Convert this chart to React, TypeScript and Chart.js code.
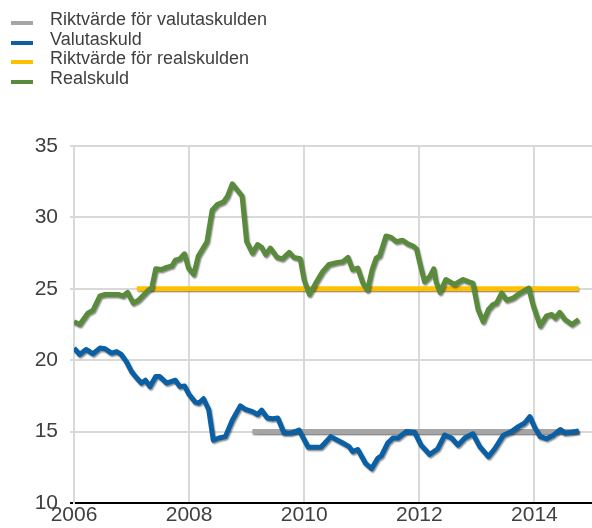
import React, { useEffect, useRef } from "react";
import { Chart, registerables } from "chart.js";

Chart.register(...registerables);

const legendLabels = [
  "Riktvärde för valutaskulden",
  "Valutaskuld",
  "Riktvärde för realskulden",
  "Realskuld",
];
const seriesColors = ["#a5a5a5", "#0b5fa5", "#ffc000", "#5a8b3c"];

const xTickYears = [2006, 2008, 2010, 2012, 2014];
const yTickValues = [10, 15, 20, 25, 30, 35];

const valutaTargetYears = [2009.1, 2014.77];
const valutaTargetValues = [15, 15];

const realTargetYears = [2007.09, 2014.77];
const realTargetValues = [25, 25];

const valutaskuldYears = [
  2006.0, 2006.1, 2006.21, 2006.33, 2006.45, 2006.54, 2006.65, 2006.74, 2006.82, 2006.91,
  2007.0, 2007.09, 2007.17, 2007.24, 2007.32, 2007.42, 2007.49, 2007.61, 2007.76, 2007.84,
  2007.92, 2008.0, 2008.11, 2008.17, 2008.25, 2008.34, 2008.42, 2008.52, 2008.63, 2008.75,
  2008.89, 2008.98, 2009.1, 2009.19, 2009.26, 2009.36, 2009.45, 2009.54, 2009.65, 2009.77,
  2009.91, 2010.07, 2010.2, 2010.29, 2010.46, 2010.67, 2010.78, 2010.84, 2010.93, 2011.07,
  2011.17, 2011.28, 2011.34, 2011.45, 2011.54, 2011.63, 2011.77, 2011.92, 2012.03, 2012.18,
  2012.32, 2012.44, 2012.56, 2012.67, 2012.79, 2012.93, 2013.05, 2013.2, 2013.31, 2013.46,
  2013.6, 2013.72, 2013.83, 2013.92, 2014.01, 2014.1, 2014.21, 2014.33, 2014.45, 2014.53,
  2014.65, 2014.77,
];
const valutaskuldValues = [
  20.85, 20.4, 20.75, 20.45, 20.85, 20.8, 20.5, 20.6, 20.4, 19.9,
  19.2, 18.75, 18.4, 18.6, 18.15, 18.85, 18.85, 18.4, 18.6, 18.15,
  18.2, 17.6, 17.05, 17.0, 17.3, 16.55, 14.4, 14.55, 14.65, 15.8,
  16.8, 16.55, 16.4, 16.2, 16.5, 15.95, 15.9, 15.95, 14.9, 14.9,
  15.1, 13.9, 13.9, 13.9, 14.65, 14.2, 13.95, 13.6, 13.75, 12.75,
  12.4, 13.15, 13.3, 14.2, 14.55, 14.55, 15.0, 14.95, 14.05, 13.4,
  13.8, 14.75, 14.55, 14.05, 14.55, 14.85, 13.95, 13.25, 13.8, 14.75,
  15.0, 15.35, 15.6, 16.05, 15.25, 14.65, 14.5, 14.75, 15.15, 14.9,
  14.95, 15.05,
];

const realskuldYears = [
  2006.0, 2006.1, 2006.24, 2006.33, 2006.45, 2006.54, 2006.77, 2006.85, 2006.93, 2007.03,
  2007.12, 2007.29, 2007.35, 2007.42, 2007.52, 2007.61, 2007.7, 2007.76, 2007.84, 2007.92,
  2007.99, 2008.08, 2008.16, 2008.31, 2008.4, 2008.49, 2008.6, 2008.67, 2008.75, 2008.84,
  2008.92, 2009.0, 2009.1, 2009.19, 2009.26, 2009.33, 2009.41, 2009.53, 2009.62, 2009.74,
  2009.82, 2009.93, 2010.0, 2010.09, 2010.2, 2010.32, 2010.43, 2010.58, 2010.67, 2010.76,
  2010.84, 2010.93, 2011.02, 2011.1, 2011.18, 2011.25, 2011.31, 2011.42, 2011.51, 2011.6,
  2011.71, 2011.8, 2011.89, 2011.95, 2012.02, 2012.09, 2012.18, 2012.25, 2012.29, 2012.36,
  2012.46, 2012.61, 2012.76, 2012.85, 2012.93, 2013.02, 2013.11, 2013.2, 2013.28, 2013.34,
  2013.43, 2013.52, 2013.63, 2013.75, 2013.9, 2013.98, 2014.1, 2014.21, 2014.3, 2014.36,
  2014.44, 2014.53, 2014.65, 2014.77,
];
const realskuldValues = [
  22.7, 22.5, 23.3, 23.5, 24.5, 24.6, 24.6, 24.5, 24.75, 24.0,
  24.2, 24.9, 25.05, 26.4, 26.35, 26.5, 26.6, 27.0, 27.1, 27.45,
  26.45, 26.0, 27.3, 28.3, 30.5, 30.9, 31.1, 31.5, 32.35, 31.9,
  31.5, 28.3, 27.5, 28.1, 27.9, 27.4, 27.85, 27.2, 27.1, 27.55,
  27.2, 27.1, 25.6, 24.6, 25.4, 26.2, 26.7, 26.85, 26.9, 27.2,
  26.35, 26.45, 25.4, 24.9, 26.35, 27.15, 27.3, 28.7, 28.6, 28.3,
  28.4, 28.15, 28.0, 27.8, 26.6, 25.5, 25.85, 26.4, 25.5, 24.75,
  25.65, 25.3, 25.65, 25.5, 25.4, 23.55, 22.7, 23.55, 23.9, 24.0,
  24.7, 24.2, 24.35, 24.7, 25.05, 23.8, 22.4, 23.1, 23.2, 22.95,
  23.35, 22.85, 22.5, 22.85,
];

const toPoints = (xs: number[], ys: number[]) => xs.map((x, i) => ({ x, y: ys[i] }));

const FONT = '"Liberation Sans", Arial, sans-serif';
const TEXT_COLOR = "#404040";

const shadowPlugin = {
  id: "lineShadow",
  beforeDatasetDraw(chart: any) {
    const ctx = chart.ctx;
    ctx.save();
    ctx.shadowColor = "rgba(0,0,0,0.45)";
    ctx.shadowBlur = 1.5;
    ctx.shadowOffsetX = 1;
    ctx.shadowOffsetY = 1.5;
  },
  afterDatasetDraw(chart: any) {
    chart.ctx.restore();
  },
};

export default function App() {
  const canvasRef = useRef<HTMLCanvasElement | null>(null);

  useEffect(() => {
    if (!canvasRef.current) return;
    const lineCommon = {
      pointRadius: 0,
      pointHoverRadius: 0,
      borderWidth: 5,
      tension: 0,
      fill: false,
      borderJoinStyle: "round" as const,
      borderCapStyle: "butt" as const,
    };
    const chart = new Chart(canvasRef.current, {
      type: "line",
      data: {
        datasets: [
          {
            ...lineCommon,
            label: legendLabels[0],
            data: toPoints(valutaTargetYears, valutaTargetValues),
            borderColor: seriesColors[0],
            backgroundColor: seriesColors[0],
            order: 2,
          },
          {
            ...lineCommon,
            label: legendLabels[1],
            data: toPoints(valutaskuldYears, valutaskuldValues),
            borderColor: seriesColors[1],
            backgroundColor: seriesColors[1],
            order: 0,
          },
          {
            ...lineCommon,
            label: legendLabels[2],
            data: toPoints(realTargetYears, realTargetValues),
            borderColor: seriesColors[2],
            backgroundColor: seriesColors[2],
            order: 2,
          },
          {
            ...lineCommon,
            label: legendLabels[3],
            data: toPoints(realskuldYears, realskuldValues),
            borderColor: seriesColors[3],
            backgroundColor: seriesColors[3],
            order: 1,
          },
        ],
      },
      options: {
        animation: false,
        responsive: false,
        devicePixelRatio: 1,
        parsing: false as any,
        layout: { padding: { top: 146, left: 0, right: 0, bottom: 0 } },
        plugins: {
          legend: { display: false },
          tooltip: { enabled: false },
        },
        scales: {
          x: {
            type: "linear",
            min: 2006,
            max: 2015,
            afterBuildTicks: (s: any) => {
              s.ticks = xTickYears.map((v) => ({ value: v }));
            },
            afterFit: (s: any) => {
              s.height = 25;
            },
            ticks: {
              color: TEXT_COLOR,
              font: { family: FONT, size: 21 },
              padding: 0,
              maxRotation: 0,
              autoSkip: false,
              callback: (v: any) => String(v),
            },
            grid: {
              color: "#d9d9d9",
              lineWidth: 2,
              drawTicks: false,
              tickLength: 0,
            },
            border: { display: true, color: "#000000", width: 2 },
          },
          y: {
            type: "linear",
            min: 10,
            max: 35,
            afterBuildTicks: (s: any) => {
              s.ticks = yTickValues.map((v) => ({ value: v }));
            },
            afterFit: (s: any) => {
              s.width = 74;
            },
            ticks: {
              color: TEXT_COLOR,
              font: { family: FONT, size: 21 },
              padding: 12,
              callback: (v: any) => String(v),
            },
            grid: {
              color: (c: any) => (c.tick && c.tick.value === 10 ? "#000000" : "#d9d9d9"),
              lineWidth: 2,
              tickLength: 4,
            },
            border: { display: true, color: "#d9d9d9", width: 2 },
          },
        },
      },
      plugins: [shadowPlugin],
    });
    return () => chart.destroy();
  }, []);

  return (
    <div
      style={{
        position: "absolute",
        left: 0,
        top: 0,
        width: 592,
        height: 528,
        background: "#ffffff",
        overflow: "hidden",
      }}
    >
      <canvas
        ref={canvasRef}
        width={592}
        height={528}
        style={{ position: "absolute", left: 0, top: 0, width: 592, height: 528 }}
      />
      <div
        style={{
          position: "absolute",
          left: 0,
          top: 10,
          fontFamily: FONT,
          fontSize: 18,
          lineHeight: "19.7px",
          color: TEXT_COLOR,
        }}
      >
        {legendLabels.map((label, i) => (
          <div key={label} style={{ position: "relative", height: 19.7, whiteSpace: "nowrap" }}>
            <span
              style={{
                position: "absolute",
                left: 11,
                top: 11,
                width: 22,
                height: 4,
                background: seriesColors[i],
              }}
            />
            <span style={{ position: "absolute", left: 50, top: 0 }}>{label}</span>
          </div>
        ))}
      </div>
    </div>
  );
}
